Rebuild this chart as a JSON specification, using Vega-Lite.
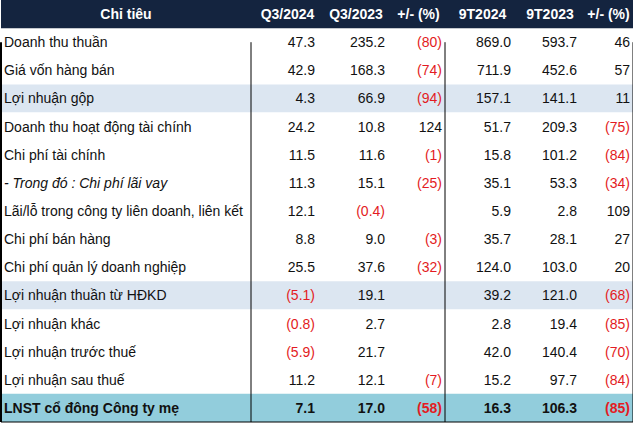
{
  "$schema": "https://vega.github.io/schema/vega-lite/v6.json",
  "padding": 0,
  "spacing": 0,
  "bounds": "flush",
  "background": "white",
  "config": {
    "view": {"stroke": null},
    "text": {"font": "Liberation Sans", "fontSize": 14, "baseline": "middle"},
    "rect": {"strokeWidth": 0}
  },
  "datasets": {
    "cols": [
      {"key": "label", "title": "Chỉ tiêu", "id": 0, "type": "header"},
      {"key": "q324", "title": "Q3/2024", "id": 0, "type": "header"},
      {"key": "q323", "title": "Q3/2023", "id": 0, "type": "header"},
      {"key": "p1", "title": "+/- (%)", "id": 0, "type": "header"},
      {"key": "t924", "title": "9T2024", "id": 0, "type": "header"},
      {"key": "t923", "title": "9T2023", "id": 0, "type": "header"},
      {"key": "p2", "title": "+/- (%)", "id": 0, "type": "header"}
    ],
    "rows": [
      {"id": 1, "label": "Doanh thu thuần", "type": "item", "q324": 47.3, "q323": 235.2, "p1": -80, "t924": 869.0, "t923": 593.7, "p2": 46},
      {"id": 2, "label": "Giá vốn hàng bán", "type": "item", "q324": 42.9, "q323": 168.3, "p1": -74, "t924": 711.9, "t923": 452.6, "p2": 57},
      {"id": 3, "label": "Lợi nhuận gộp", "type": "subtotal", "q324": 4.3, "q323": 66.9, "p1": -94, "t924": 157.1, "t923": 141.1, "p2": 11},
      {"id": 4, "label": "Doanh thu hoạt động tài chính", "type": "item", "q324": 24.2, "q323": 10.8, "p1": 124, "t924": 51.7, "t923": 209.3, "p2": -75},
      {"id": 5, "label": "Chi phí tài chính", "type": "item", "q324": 11.5, "q323": 11.6, "p1": -1, "t924": 15.8, "t923": 101.2, "p2": -84},
      {"id": 6, "label": "- Trong đó : Chi phí lãi vay", "type": "subitem", "q324": 11.3, "q323": 15.1, "p1": -25, "t924": 35.1, "t923": 53.3, "p2": -34},
      {"id": 7, "label": "Lãi/lỗ trong công ty liên doanh, liên kết", "type": "item", "q324": 12.1, "q323": -0.4, "p1": null, "t924": 5.9, "t923": 2.8, "p2": 109},
      {"id": 8, "label": "Chi phí bán hàng", "type": "item", "q324": 8.8, "q323": 9.0, "p1": -3, "t924": 35.7, "t923": 28.1, "p2": 27},
      {"id": 9, "label": "Chi phí quản lý doanh nghiệp", "type": "item", "q324": 25.5, "q323": 37.6, "p1": -32, "t924": 124.0, "t923": 103.0, "p2": 20},
      {"id": 10, "label": "Lợi nhuận thuần từ HĐKD", "type": "subtotal", "q324": -5.1, "q323": 19.1, "p1": null, "t924": 39.2, "t923": 121.0, "p2": -68},
      {"id": 11, "label": "Lợi nhuận khác", "type": "item", "q324": -0.8, "q323": 2.7, "p1": null, "t924": 2.8, "t923": 19.4, "p2": -85},
      {"id": 12, "label": "Lợi nhuận trước thuế", "type": "item", "q324": -5.9, "q323": 21.7, "p1": null, "t924": 42.0, "t923": 140.4, "p2": -70},
      {"id": 13, "label": "Lợi nhuận sau thuế", "type": "item", "q324": 11.2, "q323": 12.1, "p1": -7, "t924": 15.2, "t923": 97.7, "p2": -84},
      {"id": 14, "label": "LNST cổ đông Công ty mẹ", "type": "total", "q324": 7.1, "q323": 17.0, "p1": -58, "t924": 16.3, "t923": 106.3, "p2": -85}
    ]
  },
  "hconcat": [
    {
      "width": 250, "height": 422,
      "layer": [
        {"data": {"name": "rows"}, "mark": "rect", "encoding": {"y": {"field": "id", "type": "ordinal", "scale": {"domain": [0,1,2,3,4,5,6,7,8,9,10,11,12,13,14], "paddingInner": 0, "paddingOuter": 0}, "axis": null}, "fill": {"field": "type", "type": "nominal", "scale": {"domain": ["header","item","subitem","subtotal","total"], "range": ["#14243f","#ffffff","#ffffff","#dce6f1","#92cddc"]}, "legend": null}}},
        {"data": {"name": "cols"}, "transform": [{"filter": "datum.key === 'label'"}], "mark": "rect", "encoding": {"y": {"field": "id", "type": "ordinal", "scale": {"domain": [0,1,2,3,4,5,6,7,8,9,10,11,12,13,14], "paddingInner": 0, "paddingOuter": 0}, "axis": null}, "fill": {"field": "type", "type": "nominal", "scale": {"domain": ["header","item","subitem","subtotal","total"], "range": ["#14243f","#ffffff","#ffffff","#dce6f1","#92cddc"]}, "legend": null}}},
        {"data": {"name": "cols"}, "transform": [{"filter": "datum.key === 'label'"}], "mark": {"type": "text", "fontWeight": "bold", "color": "white", "align": "center", "dy": 1}, "encoding": {"y": {"field": "id", "type": "ordinal", "scale": {"domain": [0,1,2,3,4,5,6,7,8,9,10,11,12,13,14], "paddingInner": 0, "paddingOuter": 0}, "axis": null}, "text": {"field": "title"}}},
        {"data": {"name": "rows"}, "transform": [{"filter": "datum.type === 'item' || datum.type === 'subtotal'"}], "mark": {"type": "text", "align": "left", "color": "#111111", "dx": 3, "dy": 1}, "encoding": {"x": {"value": 0}, "y": {"field": "id", "type": "ordinal", "scale": {"domain": [0,1,2,3,4,5,6,7,8,9,10,11,12,13,14], "paddingInner": 0, "paddingOuter": 0}, "axis": null}, "text": {"field": "label"}}},
        {"data": {"name": "rows"}, "transform": [{"filter": "datum.type === 'subitem'"}], "mark": {"type": "text", "align": "left", "color": "#111111", "fontStyle": "italic", "dx": 3, "dy": 1}, "encoding": {"x": {"value": 0}, "y": {"field": "id", "type": "ordinal", "scale": {"domain": [0,1,2,3,4,5,6,7,8,9,10,11,12,13,14], "paddingInner": 0, "paddingOuter": 0}, "axis": null}, "text": {"field": "label"}}},
        {"data": {"name": "rows"}, "transform": [{"filter": "datum.type === 'total'"}], "mark": {"type": "text", "align": "left", "color": "#111111", "fontWeight": "bold", "dx": 3, "dy": 1}, "encoding": {"x": {"value": 0}, "y": {"field": "id", "type": "ordinal", "scale": {"domain": [0,1,2,3,4,5,6,7,8,9,10,11,12,13,14], "paddingInner": 0, "paddingOuter": 0}, "axis": null}, "text": {"field": "label"}}},
        {"data": {"values": [{}]}, "mark": {"type": "rule", "color": "black", "strokeWidth": 2}, "encoding": {"x": {"value": 0}, "y": {"datum": 1, "type": "ordinal", "scale": {"domain": [0,1,2,3,4,5,6,7,8,9,10,11,12,13,14], "paddingInner": 0, "paddingOuter": 0}, "axis": null}, "y2": {"value": "height"}}},
        {"data": {"values": [{}]}, "mark": {"type": "rule", "color": "black", "strokeWidth": 1}, "encoding": {"x": {"value": 0}, "x2": {"value": "width"}, "y": {"value": "height"}}}
      ]
    },
    {
      "width": 67, "height": 422,
      "layer": [
        {"data": {"name": "rows"}, "mark": "rect", "encoding": {"y": {"field": "id", "type": "ordinal", "scale": {"domain": [0,1,2,3,4,5,6,7,8,9,10,11,12,13,14], "paddingInner": 0, "paddingOuter": 0}, "axis": null}, "fill": {"field": "type", "type": "nominal", "scale": {"domain": ["header","item","subitem","subtotal","total"], "range": ["#14243f","#ffffff","#ffffff","#dce6f1","#92cddc"]}, "legend": null}}},
        {"data": {"name": "cols"}, "transform": [{"filter": "datum.key === 'q324'"}], "mark": "rect", "encoding": {"y": {"field": "id", "type": "ordinal", "scale": {"domain": [0,1,2,3,4,5,6,7,8,9,10,11,12,13,14], "paddingInner": 0, "paddingOuter": 0}, "axis": null}, "fill": {"field": "type", "type": "nominal", "scale": {"domain": ["header","item","subitem","subtotal","total"], "range": ["#14243f","#ffffff","#ffffff","#dce6f1","#92cddc"]}, "legend": null}}},
        {"data": {"name": "cols"}, "transform": [{"filter": "datum.key === 'q324'"}], "mark": {"type": "text", "fontWeight": "bold", "color": "white", "align": "center", "dx": 3, "dy": 1}, "encoding": {"y": {"field": "id", "type": "ordinal", "scale": {"domain": [0,1,2,3,4,5,6,7,8,9,10,11,12,13,14], "paddingInner": 0, "paddingOuter": 0}, "axis": null}, "text": {"field": "title"}}},
        {"data": {"name": "rows"}, "transform": [{"calculate": "datum.q324", "as": "v"}, {"filter": "isValid(datum.v) && datum.type !== 'total'"}, {"calculate": "datum.v < 0 ? '(' + format(-datum.v, '.1f') + ')' : format(datum.v, '.1f') + '\u00a0'", "as": "s"}], "mark": {"type": "text", "align": "right", "dx": -3, "dy": 1}, "encoding": {"x": {"value": "width"}, "y": {"field": "id", "type": "ordinal", "scale": {"domain": [0,1,2,3,4,5,6,7,8,9,10,11,12,13,14], "paddingInner": 0, "paddingOuter": 0}, "axis": null}, "text": {"field": "s"}, "color": {"condition": {"test": "datum.v < 0", "value": "#e31b23"}, "value": "#111111"}}},
        {"data": {"name": "rows"}, "transform": [{"calculate": "datum.q324", "as": "v"}, {"filter": "isValid(datum.v) && datum.type === 'total'"}, {"calculate": "datum.v < 0 ? '(' + format(-datum.v, '.1f') + ')' : format(datum.v, '.1f') + '\u00a0'", "as": "s"}], "mark": {"type": "text", "align": "right", "fontWeight": "bold", "dx": -3, "dy": 1}, "encoding": {"x": {"value": "width"}, "y": {"field": "id", "type": "ordinal", "scale": {"domain": [0,1,2,3,4,5,6,7,8,9,10,11,12,13,14], "paddingInner": 0, "paddingOuter": 0}, "axis": null}, "text": {"field": "s"}, "color": {"condition": {"test": "datum.v < 0", "value": "#e31b23"}, "value": "#111111"}}},
        {"data": {"values": [{}]}, "mark": {"type": "rule", "color": "black", "strokeWidth": 1}, "encoding": {"x": {"value": 0}, "y": {"datum": 1, "type": "ordinal", "scale": {"domain": [0,1,2,3,4,5,6,7,8,9,10,11,12,13,14], "paddingInner": 0, "paddingOuter": 0}, "axis": null}, "y2": {"value": "height"}}},
        {"data": {"values": [{}]}, "mark": {"type": "rule", "color": "black", "strokeWidth": 1}, "encoding": {"x": {"value": 0}, "x2": {"value": "width"}, "y": {"value": "height"}}}
      ]
    },
    {
      "width": 70, "height": 422,
      "layer": [
        {"data": {"name": "rows"}, "mark": "rect", "encoding": {"y": {"field": "id", "type": "ordinal", "scale": {"domain": [0,1,2,3,4,5,6,7,8,9,10,11,12,13,14], "paddingInner": 0, "paddingOuter": 0}, "axis": null}, "fill": {"field": "type", "type": "nominal", "scale": {"domain": ["header","item","subitem","subtotal","total"], "range": ["#14243f","#ffffff","#ffffff","#dce6f1","#92cddc"]}, "legend": null}}},
        {"data": {"name": "cols"}, "transform": [{"filter": "datum.key === 'q323'"}], "mark": "rect", "encoding": {"y": {"field": "id", "type": "ordinal", "scale": {"domain": [0,1,2,3,4,5,6,7,8,9,10,11,12,13,14], "paddingInner": 0, "paddingOuter": 0}, "axis": null}, "fill": {"field": "type", "type": "nominal", "scale": {"domain": ["header","item","subitem","subtotal","total"], "range": ["#14243f","#ffffff","#ffffff","#dce6f1","#92cddc"]}, "legend": null}}},
        {"data": {"name": "cols"}, "transform": [{"filter": "datum.key === 'q323'"}], "mark": {"type": "text", "fontWeight": "bold", "color": "white", "align": "center", "dx": 3, "dy": 1}, "encoding": {"y": {"field": "id", "type": "ordinal", "scale": {"domain": [0,1,2,3,4,5,6,7,8,9,10,11,12,13,14], "paddingInner": 0, "paddingOuter": 0}, "axis": null}, "text": {"field": "title"}}},
        {"data": {"name": "rows"}, "transform": [{"calculate": "datum.q323", "as": "v"}, {"filter": "isValid(datum.v) && datum.type !== 'total'"}, {"calculate": "datum.v < 0 ? '(' + format(-datum.v, '.1f') + ')' : format(datum.v, '.1f') + '\u00a0'", "as": "s"}], "mark": {"type": "text", "align": "right", "dx": -3, "dy": 1}, "encoding": {"x": {"value": "width"}, "y": {"field": "id", "type": "ordinal", "scale": {"domain": [0,1,2,3,4,5,6,7,8,9,10,11,12,13,14], "paddingInner": 0, "paddingOuter": 0}, "axis": null}, "text": {"field": "s"}, "color": {"condition": {"test": "datum.v < 0", "value": "#e31b23"}, "value": "#111111"}}},
        {"data": {"name": "rows"}, "transform": [{"calculate": "datum.q323", "as": "v"}, {"filter": "isValid(datum.v) && datum.type === 'total'"}, {"calculate": "datum.v < 0 ? '(' + format(-datum.v, '.1f') + ')' : format(datum.v, '.1f') + '\u00a0'", "as": "s"}], "mark": {"type": "text", "align": "right", "fontWeight": "bold", "dx": -3, "dy": 1}, "encoding": {"x": {"value": "width"}, "y": {"field": "id", "type": "ordinal", "scale": {"domain": [0,1,2,3,4,5,6,7,8,9,10,11,12,13,14], "paddingInner": 0, "paddingOuter": 0}, "axis": null}, "text": {"field": "s"}, "color": {"condition": {"test": "datum.v < 0", "value": "#e31b23"}, "value": "#111111"}}},
        {"data": {"values": [{}]}, "mark": {"type": "rule", "color": "black", "strokeWidth": 1}, "encoding": {"x": {"value": 0}, "x2": {"value": "width"}, "y": {"value": "height"}}}
      ]
    },
    {
      "width": 57, "height": 422,
      "layer": [
        {"data": {"name": "rows"}, "mark": "rect", "encoding": {"y": {"field": "id", "type": "ordinal", "scale": {"domain": [0,1,2,3,4,5,6,7,8,9,10,11,12,13,14], "paddingInner": 0, "paddingOuter": 0}, "axis": null}, "fill": {"field": "type", "type": "nominal", "scale": {"domain": ["header","item","subitem","subtotal","total"], "range": ["#14243f","#ffffff","#ffffff","#dce6f1","#92cddc"]}, "legend": null}}},
        {"data": {"name": "cols"}, "transform": [{"filter": "datum.key === 'p1'"}], "mark": "rect", "encoding": {"y": {"field": "id", "type": "ordinal", "scale": {"domain": [0,1,2,3,4,5,6,7,8,9,10,11,12,13,14], "paddingInner": 0, "paddingOuter": 0}, "axis": null}, "fill": {"field": "type", "type": "nominal", "scale": {"domain": ["header","item","subitem","subtotal","total"], "range": ["#14243f","#ffffff","#ffffff","#dce6f1","#92cddc"]}, "legend": null}}},
        {"data": {"name": "cols"}, "transform": [{"filter": "datum.key === 'p1'"}], "mark": {"type": "text", "fontWeight": "bold", "color": "white", "align": "center", "dx": 2, "dy": 1}, "encoding": {"y": {"field": "id", "type": "ordinal", "scale": {"domain": [0,1,2,3,4,5,6,7,8,9,10,11,12,13,14], "paddingInner": 0, "paddingOuter": 0}, "axis": null}, "text": {"field": "title"}}},
        {"data": {"name": "rows"}, "transform": [{"calculate": "datum.p1", "as": "v"}, {"filter": "isValid(datum.v) && datum.type !== 'total'"}, {"calculate": "datum.v < 0 ? '(' + format(-datum.v, '.0f') + ')' : format(datum.v, '.0f') + '\u00a0'", "as": "s"}], "mark": {"type": "text", "align": "right", "dx": -3, "dy": 1}, "encoding": {"x": {"value": "width"}, "y": {"field": "id", "type": "ordinal", "scale": {"domain": [0,1,2,3,4,5,6,7,8,9,10,11,12,13,14], "paddingInner": 0, "paddingOuter": 0}, "axis": null}, "text": {"field": "s"}, "color": {"condition": {"test": "datum.v < 0", "value": "#e31b23"}, "value": "#111111"}}},
        {"data": {"name": "rows"}, "transform": [{"calculate": "datum.p1", "as": "v"}, {"filter": "isValid(datum.v) && datum.type === 'total'"}, {"calculate": "datum.v < 0 ? '(' + format(-datum.v, '.0f') + ')' : format(datum.v, '.0f') + '\u00a0'", "as": "s"}], "mark": {"type": "text", "align": "right", "fontWeight": "bold", "dx": -3, "dy": 1}, "encoding": {"x": {"value": "width"}, "y": {"field": "id", "type": "ordinal", "scale": {"domain": [0,1,2,3,4,5,6,7,8,9,10,11,12,13,14], "paddingInner": 0, "paddingOuter": 0}, "axis": null}, "text": {"field": "s"}, "color": {"condition": {"test": "datum.v < 0", "value": "#e31b23"}, "value": "#111111"}}},
        {"data": {"values": [{}]}, "mark": {"type": "rule", "color": "black", "strokeWidth": 1}, "encoding": {"x": {"value": 0}, "x2": {"value": "width"}, "y": {"value": "height"}}}
      ]
    },
    {
      "width": 69, "height": 422,
      "layer": [
        {"data": {"name": "rows"}, "mark": "rect", "encoding": {"y": {"field": "id", "type": "ordinal", "scale": {"domain": [0,1,2,3,4,5,6,7,8,9,10,11,12,13,14], "paddingInner": 0, "paddingOuter": 0}, "axis": null}, "fill": {"field": "type", "type": "nominal", "scale": {"domain": ["header","item","subitem","subtotal","total"], "range": ["#14243f","#ffffff","#ffffff","#dce6f1","#92cddc"]}, "legend": null}}},
        {"data": {"name": "cols"}, "transform": [{"filter": "datum.key === 't924'"}], "mark": "rect", "encoding": {"y": {"field": "id", "type": "ordinal", "scale": {"domain": [0,1,2,3,4,5,6,7,8,9,10,11,12,13,14], "paddingInner": 0, "paddingOuter": 0}, "axis": null}, "fill": {"field": "type", "type": "nominal", "scale": {"domain": ["header","item","subitem","subtotal","total"], "range": ["#14243f","#ffffff","#ffffff","#dce6f1","#92cddc"]}, "legend": null}}},
        {"data": {"name": "cols"}, "transform": [{"filter": "datum.key === 't924'"}], "mark": {"type": "text", "fontWeight": "bold", "color": "white", "align": "center", "dx": 3, "dy": 1}, "encoding": {"y": {"field": "id", "type": "ordinal", "scale": {"domain": [0,1,2,3,4,5,6,7,8,9,10,11,12,13,14], "paddingInner": 0, "paddingOuter": 0}, "axis": null}, "text": {"field": "title"}}},
        {"data": {"name": "rows"}, "transform": [{"calculate": "datum.t924", "as": "v"}, {"filter": "isValid(datum.v) && datum.type !== 'total'"}, {"calculate": "datum.v < 0 ? '(' + format(-datum.v, '.1f') + ')' : format(datum.v, '.1f') + '\u00a0'", "as": "s"}], "mark": {"type": "text", "align": "right", "dx": -3, "dy": 1}, "encoding": {"x": {"value": "width"}, "y": {"field": "id", "type": "ordinal", "scale": {"domain": [0,1,2,3,4,5,6,7,8,9,10,11,12,13,14], "paddingInner": 0, "paddingOuter": 0}, "axis": null}, "text": {"field": "s"}, "color": {"condition": {"test": "datum.v < 0", "value": "#e31b23"}, "value": "#111111"}}},
        {"data": {"name": "rows"}, "transform": [{"calculate": "datum.t924", "as": "v"}, {"filter": "isValid(datum.v) && datum.type === 'total'"}, {"calculate": "datum.v < 0 ? '(' + format(-datum.v, '.1f') + ')' : format(datum.v, '.1f') + '\u00a0'", "as": "s"}], "mark": {"type": "text", "align": "right", "fontWeight": "bold", "dx": -3, "dy": 1}, "encoding": {"x": {"value": "width"}, "y": {"field": "id", "type": "ordinal", "scale": {"domain": [0,1,2,3,4,5,6,7,8,9,10,11,12,13,14], "paddingInner": 0, "paddingOuter": 0}, "axis": null}, "text": {"field": "s"}, "color": {"condition": {"test": "datum.v < 0", "value": "#e31b23"}, "value": "#111111"}}},
        {"data": {"values": [{}]}, "mark": {"type": "rule", "color": "black", "strokeWidth": 1}, "encoding": {"x": {"value": 0}, "y": {"datum": 1, "type": "ordinal", "scale": {"domain": [0,1,2,3,4,5,6,7,8,9,10,11,12,13,14], "paddingInner": 0, "paddingOuter": 0}, "axis": null}, "y2": {"value": "height"}}},
        {"data": {"values": [{}]}, "mark": {"type": "rule", "color": "black", "strokeWidth": 1}, "encoding": {"x": {"value": 0}, "x2": {"value": "width"}, "y": {"value": "height"}}}
      ]
    },
    {
      "width": 66, "height": 422,
      "layer": [
        {"data": {"name": "rows"}, "mark": "rect", "encoding": {"y": {"field": "id", "type": "ordinal", "scale": {"domain": [0,1,2,3,4,5,6,7,8,9,10,11,12,13,14], "paddingInner": 0, "paddingOuter": 0}, "axis": null}, "fill": {"field": "type", "type": "nominal", "scale": {"domain": ["header","item","subitem","subtotal","total"], "range": ["#14243f","#ffffff","#ffffff","#dce6f1","#92cddc"]}, "legend": null}}},
        {"data": {"name": "cols"}, "transform": [{"filter": "datum.key === 't923'"}], "mark": "rect", "encoding": {"y": {"field": "id", "type": "ordinal", "scale": {"domain": [0,1,2,3,4,5,6,7,8,9,10,11,12,13,14], "paddingInner": 0, "paddingOuter": 0}, "axis": null}, "fill": {"field": "type", "type": "nominal", "scale": {"domain": ["header","item","subitem","subtotal","total"], "range": ["#14243f","#ffffff","#ffffff","#dce6f1","#92cddc"]}, "legend": null}}},
        {"data": {"name": "cols"}, "transform": [{"filter": "datum.key === 't923'"}], "mark": {"type": "text", "fontWeight": "bold", "color": "white", "align": "center", "dx": 3, "dy": 1}, "encoding": {"y": {"field": "id", "type": "ordinal", "scale": {"domain": [0,1,2,3,4,5,6,7,8,9,10,11,12,13,14], "paddingInner": 0, "paddingOuter": 0}, "axis": null}, "text": {"field": "title"}}},
        {"data": {"name": "rows"}, "transform": [{"calculate": "datum.t923", "as": "v"}, {"filter": "isValid(datum.v) && datum.type !== 'total'"}, {"calculate": "datum.v < 0 ? '(' + format(-datum.v, '.1f') + ')' : format(datum.v, '.1f') + '\u00a0'", "as": "s"}], "mark": {"type": "text", "align": "right", "dx": -3, "dy": 1}, "encoding": {"x": {"value": "width"}, "y": {"field": "id", "type": "ordinal", "scale": {"domain": [0,1,2,3,4,5,6,7,8,9,10,11,12,13,14], "paddingInner": 0, "paddingOuter": 0}, "axis": null}, "text": {"field": "s"}, "color": {"condition": {"test": "datum.v < 0", "value": "#e31b23"}, "value": "#111111"}}},
        {"data": {"name": "rows"}, "transform": [{"calculate": "datum.t923", "as": "v"}, {"filter": "isValid(datum.v) && datum.type === 'total'"}, {"calculate": "datum.v < 0 ? '(' + format(-datum.v, '.1f') + ')' : format(datum.v, '.1f') + '\u00a0'", "as": "s"}], "mark": {"type": "text", "align": "right", "fontWeight": "bold", "dx": -3, "dy": 1}, "encoding": {"x": {"value": "width"}, "y": {"field": "id", "type": "ordinal", "scale": {"domain": [0,1,2,3,4,5,6,7,8,9,10,11,12,13,14], "paddingInner": 0, "paddingOuter": 0}, "axis": null}, "text": {"field": "s"}, "color": {"condition": {"test": "datum.v < 0", "value": "#e31b23"}, "value": "#111111"}}},
        {"data": {"values": [{}]}, "mark": {"type": "rule", "color": "black", "strokeWidth": 1}, "encoding": {"x": {"value": 0}, "x2": {"value": "width"}, "y": {"value": "height"}}}
      ]
    },
    {
      "width": 53, "height": 422,
      "layer": [
        {"data": {"name": "rows"}, "mark": "rect", "encoding": {"y": {"field": "id", "type": "ordinal", "scale": {"domain": [0,1,2,3,4,5,6,7,8,9,10,11,12,13,14], "paddingInner": 0, "paddingOuter": 0}, "axis": null}, "fill": {"field": "type", "type": "nominal", "scale": {"domain": ["header","item","subitem","subtotal","total"], "range": ["#14243f","#ffffff","#ffffff","#dce6f1","#92cddc"]}, "legend": null}}},
        {"data": {"name": "cols"}, "transform": [{"filter": "datum.key === 'p2'"}], "mark": "rect", "encoding": {"y": {"field": "id", "type": "ordinal", "scale": {"domain": [0,1,2,3,4,5,6,7,8,9,10,11,12,13,14], "paddingInner": 0, "paddingOuter": 0}, "axis": null}, "fill": {"field": "type", "type": "nominal", "scale": {"domain": ["header","item","subitem","subtotal","total"], "range": ["#14243f","#ffffff","#ffffff","#dce6f1","#92cddc"]}, "legend": null}}},
        {"data": {"name": "cols"}, "transform": [{"filter": "datum.key === 'p2'"}], "mark": {"type": "text", "fontWeight": "bold", "color": "white", "align": "center", "dx": 2, "dy": 1}, "encoding": {"y": {"field": "id", "type": "ordinal", "scale": {"domain": [0,1,2,3,4,5,6,7,8,9,10,11,12,13,14], "paddingInner": 0, "paddingOuter": 0}, "axis": null}, "text": {"field": "title"}}},
        {"data": {"name": "rows"}, "transform": [{"calculate": "datum.p2", "as": "v"}, {"filter": "isValid(datum.v) && datum.type !== 'total'"}, {"calculate": "datum.v < 0 ? '(' + format(-datum.v, '.0f') + ')' : format(datum.v, '.0f') + '\u00a0'", "as": "s"}], "mark": {"type": "text", "align": "right", "dx": -3, "dy": 1}, "encoding": {"x": {"value": "width"}, "y": {"field": "id", "type": "ordinal", "scale": {"domain": [0,1,2,3,4,5,6,7,8,9,10,11,12,13,14], "paddingInner": 0, "paddingOuter": 0}, "axis": null}, "text": {"field": "s"}, "color": {"condition": {"test": "datum.v < 0", "value": "#e31b23"}, "value": "#111111"}}},
        {"data": {"name": "rows"}, "transform": [{"calculate": "datum.p2", "as": "v"}, {"filter": "isValid(datum.v) && datum.type === 'total'"}, {"calculate": "datum.v < 0 ? '(' + format(-datum.v, '.0f') + ')' : format(datum.v, '.0f') + '\u00a0'", "as": "s"}], "mark": {"type": "text", "align": "right", "fontWeight": "bold", "dx": -3, "dy": 1}, "encoding": {"x": {"value": "width"}, "y": {"field": "id", "type": "ordinal", "scale": {"domain": [0,1,2,3,4,5,6,7,8,9,10,11,12,13,14], "paddingInner": 0, "paddingOuter": 0}, "axis": null}, "text": {"field": "s"}, "color": {"condition": {"test": "datum.v < 0", "value": "#e31b23"}, "value": "#111111"}}},
        {"data": {"values": [{}]}, "mark": {"type": "rule", "color": "black", "strokeWidth": 1}, "encoding": {"x": {"value": "width"}, "y": {"datum": 1, "type": "ordinal", "scale": {"domain": [0,1,2,3,4,5,6,7,8,9,10,11,12,13,14], "paddingInner": 0, "paddingOuter": 0}, "axis": null}, "y2": {"value": "height"}}},
        {"data": {"values": [{}]}, "mark": {"type": "rule", "color": "black", "strokeWidth": 1}, "encoding": {"x": {"value": 0}, "x2": {"value": "width"}, "y": {"value": "height"}}}
      ]
    }
  ]
}
